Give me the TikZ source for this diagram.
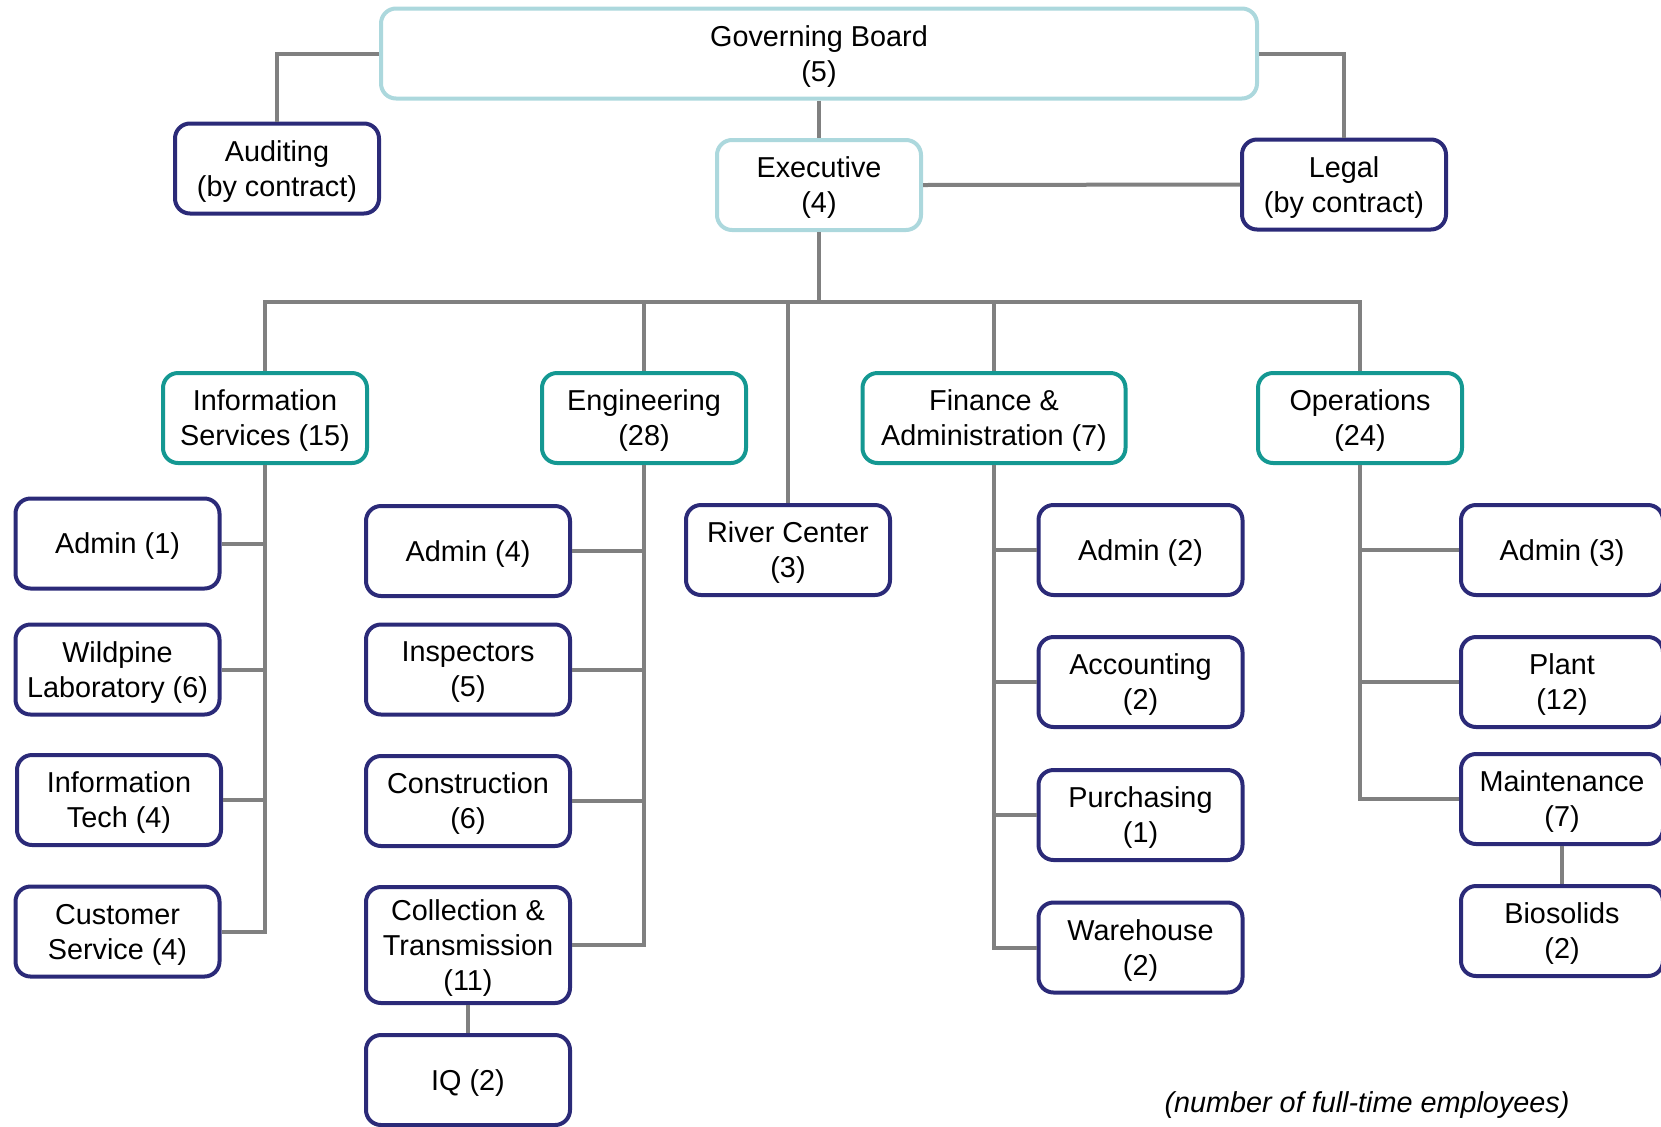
\documentclass[tikz,border=0pt]{standalone}
\usepackage{fontspec}
\setmainfont{Liberation Sans}
\usepackage{xcolor}
\usepackage{tikz}
\usetikzlibrary{positioning}

\definecolor{navy}{RGB}{43,42,120}
\definecolor{teal}{RGB}{20,152,146}
\definecolor{paleteal}{RGB}{172,216,221}
\definecolor{linkgray}{RGB}{128,128,128}

\tikzset{
  box/.style={draw, rounded corners=7.5pt, line width=2pt, align=center, minimum width=102pt, minimum height=45pt, inner sep=2pt, text depth=0pt, fill=white},
  topbox/.style={box, draw=paleteal},
  deptbox/.style={box, draw=teal},
  unitbox/.style={box, draw=navy},
  link/.style={draw=linkgray, line width=2pt}
}

\begin{document}
\begin{tikzpicture}[x=0.5pt, y=-0.5pt, font=\fontsize{14.4}{17.5}\selectfont]
\useasboundingbox (0,0) rectangle (1661,1126);

\node(gb)[topbox, minimum width=438pt] at (819,53.5){Governing Board\\(5)};
\node(aud)[unitbox] at (277,168.5){Auditing\\(by contract)};
\node(exec)[topbox] at (819,185){Executive\\(4)};
\node(legal)[unitbox] at (1344,184.5){Legal\\(by contract)};

\coordinate(bus) at (819,302);

\node(is)[deptbox] at (265,418){Information\\Services (15)};
\node(eng)[deptbox] at (644,418){Engineering\\(28)};
\node(fa)[deptbox, minimum width=131.5pt] at (994,418){Finance \&\\Administration (7)};
\node(ops)[deptbox] at (1360,418){Operations\\(24)};
\node(river)[unitbox] at (788,550){River Center\\(3)};

\node(adm1)[unitbox] at (117.5,543.5){Admin (1)};
\node(lab)[unitbox] at (117.5,669.5){Wildpine\\Laboratory (6)};
\node(it)[unitbox] at (119,800){Information\\Tech (4)};
\node(cs)[unitbox] at (117.5,931.5){Customer\\Service (4)};

\node(adm4)[unitbox] at (468,551){Admin (4)};
\node(insp)[unitbox] at (468,669.5){Inspectors\\(5)};
\node(cons)[unitbox] at (468,801){Construction\\(6)};
\node(col)[unitbox, minimum height=58pt] at (468,945){Collection \&\\Transmission\\(11)};
\node(iq)[unitbox, below=14pt of col]{IQ (2)};

\node(adm2)[unitbox] at (1140.5,550){Admin (2)};
\node(acc)[unitbox] at (1140.5,682){Accounting\\(2)};
\node(pur)[unitbox] at (1140.5,815){Purchasing\\(1)};
\node(ware)[unitbox] at (1140.5,947.5){Warehouse\\(2)};

\node(adm3)[unitbox, minimum width=101pt] at (1562,550){Admin (3)};
\node(plant)[unitbox, minimum width=101pt] at (1562,682){Plant\\(12)};
\node(mnt)[unitbox, minimum width=101pt] at (1562,799){Maintenance\\(7)};
\node(bio)[unitbox, minimum width=101pt, below=19pt of mnt]{Biosolids\\(2)};

\node(note) at (1367,1105){\itshape (number of full-time employees)};

\path[link](gb.west) -| (aud.north);
\path[link](gb.east) -| (legal.north);
\path[link](gb.south) -- (exec.north);
\path[link](exec.east) -- (legal.west);
\path[link](exec.south) -- (bus);

\foreach \x in {is, eng, river, fa, ops}
	\path[link](bus) -| (\x.north);

\foreach \x in {adm1, lab, it, cs}
	\path[link](is.south) |- (\x.east);
\foreach \x in {adm4, insp, cons, col}
	\path[link](eng.south) |- (\x.east);
\foreach \x in {adm2, acc, pur, ware}
	\path[link](fa.south) |- (\x.west);
\foreach \x in {adm3, plant, mnt}
	\path[link](ops.south) |- (\x.west);

\path[link](col.south) -- (iq.north);
\path[link](mnt.south) -- (bio.north);

\end{tikzpicture}
\end{document}
